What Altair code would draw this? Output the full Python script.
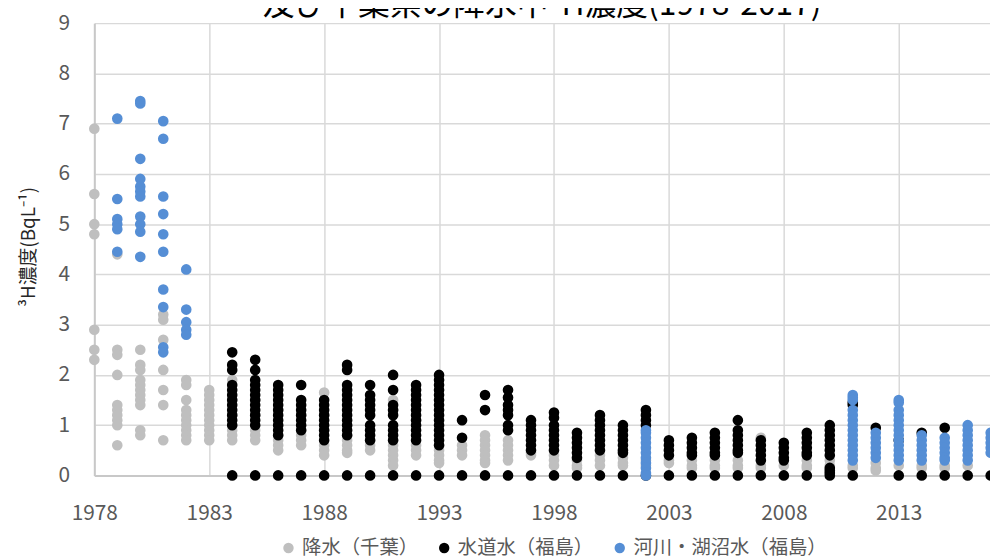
import altair as alt
import pandas as pd

series_names = ["降水（千葉）", "水道水（福島）", "河川・湖沼水（福島）"]
series_colors = ["#bfbfbf", "#000000", "#558ed5"]

rain_chiba = {
    1978: [6.9, 5.6, 5.0, 4.8, 2.9, 2.5, 2.3],
    1979: [4.4, 2.5, 2.4, 2.0, 1.4, 1.3, 1.2, 1.1, 1.0, 0.6],
    1980: [2.5, 2.2, 2.1, 1.9, 1.8, 1.7, 1.6, 1.5, 1.4, 0.9, 0.8],
    1981: [3.2, 3.1, 2.7, 2.1, 1.7, 1.4, 0.7],
    1982: [1.9, 1.8, 1.5, 1.3, 1.2, 1.1, 1.0, 0.9, 0.8, 0.7],
    1983: [1.7, 1.6, 1.5, 1.4, 1.3, 1.2, 1.1, 1.0, 0.9, 0.8, 0.7],
    1984: [1.9, 1.5, 1.2, 1.0, 0.9, 0.8, 0.7],
    1985: [1.5, 1.2, 0.9, 0.8, 0.7],
    1986: [1.3, 1.0, 0.8, 0.7, 0.6, 0.5],
    1987: [1.2, 0.9, 0.8, 0.7, 0.6],
    1988: [1.65, 1.2, 0.9, 0.6, 0.5, 0.4],
    1989: [1.0, 0.8, 0.7, 0.6, 0.5, 0.45],
    1990: [0.9, 0.7, 0.6, 0.5],
    1991: [1.5, 1.3, 0.7, 0.6, 0.5, 0.4, 0.3, 0.2],
    1992: [1.1, 0.6, 0.5, 0.4],
    1993: [0.6, 0.5, 0.4, 0.3, 0.25],
    1994: [0.6, 0.5, 0.4],
    1995: [0.8, 0.7, 0.6, 0.5, 0.4, 0.3, 0.25],
    1996: [0.7, 0.6, 0.5, 0.4, 0.3],
    1997: [0.45, 0.4],
    1998: [0.4, 0.3, 0.2],
    1999: [0.3, 0.2, 0.15],
    2000: [0.4, 0.3, 0.2],
    2001: [0.35, 0.25, 0.2],
    2002: [0.3, 0.2],
    2003: [0.3, 0.25],
    2004: [0.3, 0.2, 0.15],
    2005: [0.3, 0.2, 0.15],
    2006: [0.3, 0.2, 0.15],
    2007: [0.75, 0.2, 0.15],
    2008: [0.2],
    2009: [0.3, 0.2, 0.15],
    2010: [0.3, 0.2],
    2011: [0.2, 0.15],
    2012: [0.25, 0.15, 0.1],
    2013: [0.2],
    2014: [0.2, 0.15],
    2015: [0.2, 0.15],
    2016: [0.2],
}

tap_fukushima = {
    1984: [2.45, 2.2, 2.1, 1.8, 1.7, 1.6, 1.5, 1.4, 1.3, 1.2, 1.1, 1.0, 0],
    1985: [2.3, 2.1, 1.9, 1.8, 1.7, 1.6, 1.5, 1.4, 1.3, 1.2, 1.1, 1.0, 0],
    1986: [1.8, 1.7, 1.6, 1.5, 1.4, 1.3, 1.2, 1.1, 1.0, 0.9, 0.8, 0],
    1987: [1.8, 1.5, 1.4, 1.3, 1.2, 1.1, 1.0, 0.9, 0],
    1988: [1.5, 1.4, 1.3, 1.2, 1.1, 1.0, 0.9, 0.8, 0.7, 0],
    1989: [2.2, 2.1, 1.8, 1.7, 1.6, 1.5, 1.4, 1.3, 1.2, 1.1, 1.0, 0.9, 0.8, 0],
    1990: [1.8, 1.6, 1.5, 1.4, 1.3, 1.2, 1.0, 0.9, 0.8, 0.7, 0],
    1991: [2.0, 1.7, 1.4, 1.3, 1.2, 1.0, 0.9, 0.8, 0.7, 0],
    1992: [1.8, 1.7, 1.6, 1.5, 1.4, 1.3, 1.2, 1.1, 1.0, 0.9, 0.8, 0.7, 0],
    1993: [2.0, 1.9, 1.8, 1.7, 1.6, 1.5, 1.4, 1.3, 1.2, 1.1, 1.0, 0.9, 0.8, 0.7, 0.6, 0],
    1994: [1.1, 0.75, 0],
    1995: [1.6, 1.3, 0],
    1996: [1.7, 1.55, 1.4, 1.3, 1.2, 1.0, 0.9, 0],
    1997: [1.1, 1.0, 0.9, 0.8, 0.7, 0.6, 0.5, 0],
    1998: [1.25, 1.15, 1.0, 0.9, 0.8, 0.7, 0.6, 0.5, 0],
    1999: [0.85, 0.75, 0.65, 0.55, 0.45, 0.35, 0],
    2000: [1.2, 1.1, 1.0, 0.9, 0.8, 0.7, 0.6, 0.5, 0],
    2001: [1.0, 0.9, 0.8, 0.7, 0.6, 0.5, 0.45, 0],
    2002: [1.3, 1.2, 1.1, 1.0, 0],
    2003: [0.7, 0.6, 0.5, 0.4, 0],
    2004: [0.75, 0.65, 0.55, 0.45, 0.4, 0],
    2005: [0.85, 0.75, 0.65, 0.55, 0.45, 0.4, 0],
    2006: [1.1, 0.9, 0.8, 0.7, 0.6, 0.5, 0.45, 0],
    2007: [0.7, 0.6, 0.5, 0.4, 0.3, 0],
    2008: [0.65, 0.55, 0.45, 0.35, 0.3, 0],
    2009: [0.85, 0.75, 0.65, 0.55, 0.45, 0.4, 0],
    2010: [1.0, 0.9, 0.8, 0.7, 0.6, 0.5, 0.4, 0.15, 0.1, 0.05, 0],
    2011: [1.45, 1.4, 0],
    2012: [0.95],
    2013: [0.7, 0],
    2014: [0.85, 0],
    2015: [0.95, 0],
    2016: [0],
    2017: [0],
}

river_fukushima = {
    1979: [7.1, 5.5, 5.1, 5.0, 4.9, 4.45],
    1980: [7.45, 7.4, 6.3, 5.9, 5.75, 5.65, 5.55, 5.15, 5.0, 4.85, 4.35],
    1981: [7.05, 6.7, 5.55, 5.2, 4.8, 4.45, 3.7, 3.35, 2.55, 2.45],
    1982: [4.1, 3.3, 3.05, 2.9, 2.8],
    2002: [0.9, 0.85, 0.75, 0.65, 0.55, 0.45, 0.35, 0.25, 0.15, 0.05, 0.0],
    2011: [1.6, 1.55, 1.5, 1.3, 1.2, 1.1, 1.0, 0.9, 0.8, 0.7, 0.6, 0.5, 0.4, 0.3],
    2012: [0.85, 0.75, 0.65, 0.55, 0.45, 0.35],
    2013: [1.5, 1.45, 1.3, 1.2, 1.1, 1.0, 0.9, 0.8, 0.7, 0.6, 0.5, 0.4, 0.3],
    2014: [0.8, 0.7, 0.6, 0.5, 0.4, 0.3],
    2015: [0.75, 0.65, 0.55, 0.45, 0.35, 0.3],
    2016: [1.0, 0.9, 0.8, 0.7, 0.6, 0.5, 0.4, 0.3],
    2017: [0.85, 0.75, 0.65, 0.55, 0.45],
}

x_ticks = [1978, 1983, 1988, 1993, 1998, 2003, 2008, 2013]
y_ticks = [0, 1, 2, 3, 4, 5, 6, 7, 8, 9]

rows = []
for k, (name, d) in enumerate(zip(series_names, [rain_chiba, tap_fukushima, river_fukushima])):
    for yr, vals in d.items():
        for v in vals:
            rows.append({"year": yr, "value": v, "series": name, "ord": k})
df = pd.DataFrame(rows)

FONT = "Noto Sans CJK JP"

chart = alt.Chart(df).mark_circle(size=115, opacity=1).encode(
    x=alt.X("year:Q",
            scale=alt.Scale(domain=[1978, 2016.97], nice=False, zero=False),
            axis=alt.Axis(values=x_ticks, format="d", title=None, ticks=False, tickSize=0,
                          labelPadding=27, labelFontSize=21, labelColor="#595959",
                          labelFlush=False,
                          domainColor="#c8c8c8", domainWidth=2,
                          gridColor="#d9d9d9", gridWidth=1.5, labelFont=FONT)),
    y=alt.Y("value:Q",
            scale=alt.Scale(domain=[0, 9], nice=False),
            axis=alt.Axis(values=y_ticks, title="³H濃度(BqL⁻¹)", ticks=False, tickSize=0,
                          labelPadding=25, labelFontSize=21, labelColor="#595959",
                          labelFlush=False,
                          domainColor="#c8c8c8", domainWidth=2,
                          gridColor="#d9d9d9", gridWidth=1.5, labelFont=FONT,
                          titleFont=FONT, titleFontSize=19, titleFontWeight="normal",
                          titleColor="#262626", titleX=-66, titleY=225,
                          titleAngle=270, titleAlign="center", titleBaseline="middle")),
    color=alt.Color("series:N",
                    scale=alt.Scale(domain=series_names, range=series_colors),
                    legend=alt.Legend(orient="none", legendX=186, legendY=519,
                                      direction="horizontal", title=None,
                                      labelFontSize=19.5, labelColor="#595959", labelFont=FONT,
                                      labelLimit=400,
                                      symbolType="circle", symbolSize=110, columnPadding=16,
                                      symbolStrokeWidth=0)),
    order=alt.Order("ord:Q"),
).properties(
    width=903,
    height=456,
    autosize=alt.AutoSizeParams(type="none"),
    padding={"left": 87, "top": 13, "right": 0, "bottom": 84},
    title=alt.TitleParams("及び千葉県の降水中³H濃度(1978-2017)", font=FONT, fontSize=32,
                          fontWeight="normal", color="#000000", anchor="middle",
                          baseline="alphabetic", offset=-35),
).configure_view(stroke=None)

chart.save("out.html", embed_options={"renderer": "svg", "actions": False})
